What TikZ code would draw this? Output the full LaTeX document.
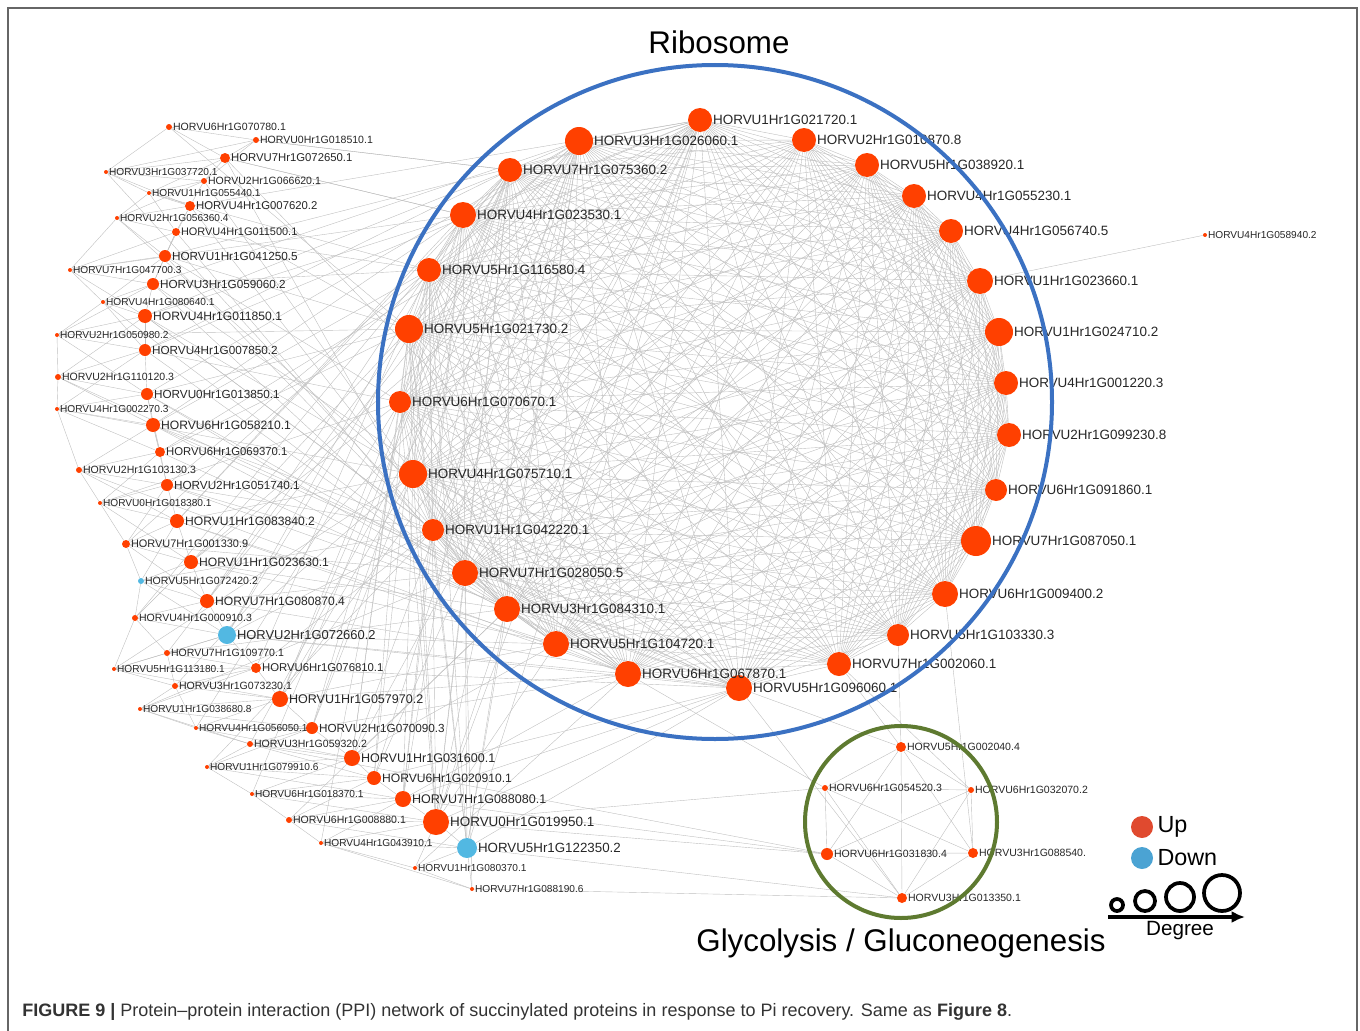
\documentclass[tikz,border=0pt]{standalone}
\usepackage{fontspec}
\setmainfont{Liberation Sans}
\usetikzlibrary{positioning, arrows.meta, backgrounds}

\definecolor{up}{HTML}{FF4000}
\definecolor{dn}{HTML}{52B8E2}
\definecolor{upkey}{HTML}{E04A2F}
\definecolor{dnkey}{HTML}{4BA3D3}
\definecolor{ribblue}{HTML}{3B71C2}
\definecolor{glygreen}{HTML}{5E7A30}

\begin{document}
\begin{tikzpicture}[
    x=0.75pt, y=-0.75pt,
    pnode/.style={circle, inner sep=0pt, minimum size=#1*1.5pt},
    lbl/.style={inner sep=0.4pt, label distance=0pt, text=black!85},
    edge/.style={draw=gray!50, line width=0.3pt},
    ring/.style={circle, draw=#1, line width=3pt, inner sep=0pt},
    degcirc/.style={circle, draw=black, line width=2.8pt, inner sep=0pt, minimum size=#1*1.5pt},
    title/.style={font=\fontsize{23.5}{28}\selectfont},
]
\useasboundingbox (0,0) rectangle (1360,1031);

% frame
\draw[gray!80!black, line width=1pt] (8,1031) -- (8,8) -- (1357,8) -- (1357,1031);

% ribosome cluster
\foreach \x/\y/\rad/\txt [count=\i] in {
    700/120/12/HORVU1Hr1G021720.1, 579/141/14/HORVU3Hr1G026060.1,
    804/140/12/HORVU2Hr1G010870.8, 867/165/12/HORVU5Hr1G038920.1,
    914/196/12/HORVU4Hr1G055230.1, 951/231/12/HORVU4Hr1G056740.5,
    980/281/13/HORVU1Hr1G023660.1, 999/332/14/HORVU1Hr1G024710.2,
    1006/383/12/HORVU4Hr1G001220.3, 1009/435/12/HORVU2Hr1G099230.8,
    996/490/11/HORVU6Hr1G091860.1, 976/541/15/HORVU7Hr1G087050.1,
    945/594/13/HORVU6Hr1G009400.2, 898/635/11/HORVU5Hr1G103330.3,
    839/664/12/HORVU7Hr1G002060.1, 739/688/13/HORVU5Hr1G096060.1,
    628/674/13/HORVU6Hr1G067870.1, 556/644/13/HORVU5Hr1G104720.1,
    507/609/13/HORVU3Hr1G084310.1, 465/573/13/HORVU7Hr1G028050.5,
    433/530/11/HORVU1Hr1G042220.1, 413/474/14/HORVU4Hr1G075710.1,
    400/402/11/HORVU6Hr1G070670.1, 409/329/14/HORVU5Hr1G021730.2,
    429/270/12/HORVU5Hr1G116580.4, 463/215/13/HORVU4Hr1G023530.1,
    510/170/12/HORVU7Hr1G075360.2} {
  \node[pnode=\rad, fill=up,
        label={[lbl, font=\fontsize{10.1}{12}\selectfont]0:\txt}] (r\i) at (\x,\y) {};
}

% left cluster
\foreach \x/\y/\rad/\col/\txt [count=\i] in {
    169/127/3/up/HORVU6Hr1G070780.1, 256/140/3/up/HORVU0Hr1G018510.1,
    225/158/5/up/HORVU7Hr1G072650.1, 106/172/2/up/HORVU3Hr1G037720.1,
    204/181/3/up/HORVU2Hr1G066620.1, 149/193/2/up/HORVU1Hr1G055440.1,
    190/206/5/up/HORVU4Hr1G007620.2, 117/218/2/up/HORVU2Hr1G056360.4,
    176/232/4/up/HORVU4Hr1G011500.1, 165/256/6/up/HORVU1Hr1G041250.5,
    70/270/2/up/HORVU7Hr1G047700.3, 153/284/6/up/HORVU3Hr1G059060.2,
    103/302/2/up/HORVU4Hr1G080640.1, 145/316/7/up/HORVU4Hr1G011850.1,
    57/335/2/up/HORVU2Hr1G050980.2, 145/350/6/up/HORVU4Hr1G007850.2,
    58/377/3/up/HORVU2Hr1G110120.3, 147/394/6/up/HORVU0Hr1G013850.1,
    57/409/2/up/HORVU4Hr1G002270.3, 153/425/7/up/HORVU6Hr1G058210.1,
    160/452/5/up/HORVU6Hr1G069370.1, 79/470/3/up/HORVU2Hr1G103130.3,
    167/485/6/up/HORVU2Hr1G051740.1, 100/503/2/up/HORVU0Hr1G018380.1,
    177/521/7/up/HORVU1Hr1G083840.2, 126/544/4/up/HORVU7Hr1G001330.9,
    191/562/7/up/HORVU1Hr1G023630.1, 141/581/3/dn/HORVU5Hr1G072420.2,
    207/601/7/up/HORVU7Hr1G080870.4, 135/618/3/up/HORVU4Hr1G000910.3,
    227/635/9/dn/HORVU2Hr1G072660.2, 167/653/3/up/HORVU7Hr1G109770.1,
    114/669/2/up/HORVU5Hr1G113180.1, 256/668/5/up/HORVU6Hr1G076810.1,
    175/686/3/up/HORVU3Hr1G073230.1, 280/699/8/up/HORVU1Hr1G057970.2,
    140/709/2/up/HORVU1Hr1G038680.8, 196/728/2/up/HORVU4Hr1G056050.1,
    312/728/6/up/HORVU2Hr1G070090.3, 250/744/3/up/HORVU3Hr1G059320.2,
    352/758/8/up/HORVU1Hr1G031600.1, 207/767/2/up/HORVU1Hr1G079910.6,
    374/778/7/up/HORVU6Hr1G020910.1, 252/794/2/up/HORVU6Hr1G018370.1,
    403/799/8/up/HORVU7Hr1G088080.1, 289/820/3/up/HORVU6Hr1G008880.1,
    436/822/13/up/HORVU0Hr1G019950.1, 321/843/2/up/HORVU4Hr1G043910.1,
    467/848/10/dn/HORVU5Hr1G122350.2, 415/868/2/up/HORVU1Hr1G080370.1,
    472/889/2/up/HORVU7Hr1G088190.6} {
  \pgfmathsetmacro\fs{min(10.1,7+0.3*\rad)}
  \node[pnode=\rad, fill=\col,
        label={[lbl, font=\fontsize{\fs}{\fs}\selectfont]0:\txt}] (l\i) at (\x,\y) {};
  \pgfmathtruncatemacro\m{max(1,\rad-2)}
  \begin{pgfonlayer}{background}
    \foreach \k in {1,...,\m} {
      \pgfmathtruncatemacro\j{mod(mod(\i*3+\k*5,14)+15,27)+1}
      \draw[edge] (l\i) -- (r\j);
    }
  \end{pgfonlayer}
}

% glycolysis cluster
\foreach \x/\y/\rad/\txt [count=\i] in {
    901/747/5/HORVU5Hr1G002040.4, 825/788/3/HORVU6Hr1G054520.3,
    971/790/3/HORVU6Hr1G032070.2, 827/854/6/HORVU6Hr1G031830.4,
    973/853/5/HORVU3Hr1G088540., 902/898/5/HORVU3Hr1G013350.1} {
  \node[pnode=\rad, fill=up,
        label={[lbl, font=\fontsize{7.9}{8}\selectfont]0:\txt}] (g\i) at (\x,\y) {};
}
\node[pnode=2, fill=up,
      label={[lbl, font=\fontsize{7.6}{8}\selectfont]0:HORVU4Hr1G058940.2}] (iso) at (1205,235) {};

% interactions
\begin{pgfonlayer}{background}
  \foreach \i in {1,...,26} {
    \pgfmathtruncatemacro\s{\i+1}
    \foreach \j in {\s,...,27} { \draw[edge] (r\i) -- (r\j); }
  }
  \foreach \i in {1,...,50} {
    \foreach \d in {1,2,3} {
      \pgfmathtruncatemacro\j{\i+\d}
      \ifnum\j<52 \draw[edge] (l\i) -- (l\j); \fi
    }
  }
  \foreach \i in {1,...,5} {
    \pgfmathtruncatemacro\s{\i+1}
    \foreach \j in {\s,...,6} { \draw[edge] (g\i) -- (g\j); }
  }
  \foreach \a/\b in {g4/l47, g4/l45, g4/l40, g6/l49, g6/l51, g6/r16, g1/r15,
                     g1/r16, g1/r14, g2/l47, g2/r17, g5/r13, g3/r15, iso/r7,
                     l3/r26, l2/r27} {
    \draw[edge] (\a) -- (\b);
  }
\end{pgfonlayer}

% pathway rings and titles
\node[ring=ribblue, minimum size=505.5pt] (ribring) at (715,402) {};
\node[ring=glygreen, minimum size=144pt] (glyring) at (901,822) {};
\node[title] (ribtitle) at (719,42) {Ribosome};
\node[title] (glytitle) at (901,943) {Glycolysis / Gluconeogenesis};

% legend
\node[pnode=11, fill=upkey] (upkey) at (1142,827) {};
\node[right=2pt of upkey, font=\fontsize{17.5}{20}\selectfont, inner sep=1pt] (uptext) {Up};
\node[pnode=11, fill=dnkey] (dnkey) at (1142,858) {};
\node[right=2pt of dnkey, font=\fontsize{17.5}{20}\selectfont, inner sep=1pt] (dntext) {Down};
\node[degcirc=6] (deg1) at (1117,905) {};
\node[degcirc=10] (deg2) at (1145,901) {};
\node[degcirc=14] (deg3) at (1180,897) {};
\node[degcirc=18] (deg4) at (1222,893) {};
\coordinate (arrstart) at (1108,917);
\coordinate (arrend) at (1245,917);
\draw[line width=3pt, -{Latex[length=10pt, width=9pt]}] (arrstart) -- (arrend);
\node[font=\fontsize{15.5}{18}\selectfont] (degtext) at (1180,931) {Degree};

% caption
\node[anchor=west, font=\fontsize{13.5}{15}\selectfont, text=black!80, inner sep=0pt] (caption) at (22,1012)
    {\textbf{FIGURE 9 |} Protein–protein interaction (PPI) network of succinylated proteins in response to Pi recovery. Same as \textbf{Figure 8}.};

\end{tikzpicture}
\end{document}
